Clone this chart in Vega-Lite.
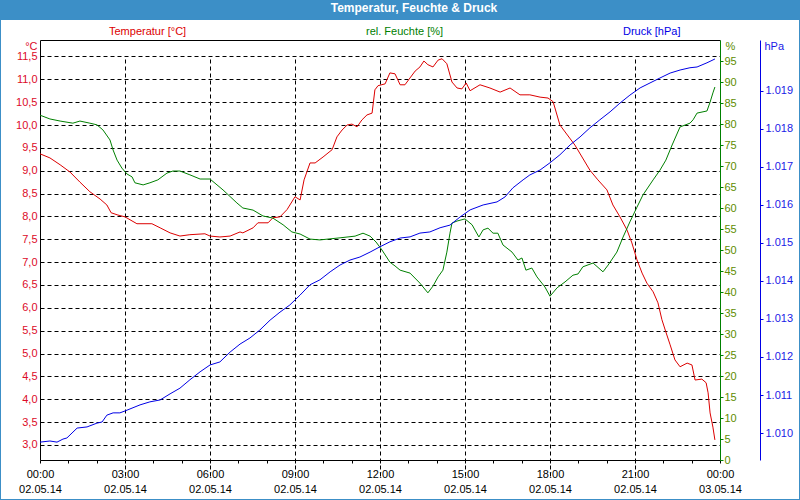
{
  "$schema": "https://vega.github.io/schema/vega-lite/v6.json",
  "width": 798,
  "height": 479,
  "autosize": {"type": "none"},
  "padding": {"left": 1, "top": 20, "right": 1, "bottom": 1},
  "background": "#3c8fc7",
  "view": {"fill": "white", "stroke": null},
  "title": {"text": "Temperatur, Feuchte & Druck", "color": "white", "font": "Liberation Sans", "fontSize": 12, "fontWeight": "bold", "anchor": "middle", "frame": "group", "offset": 5, "dx": 14},
  "config": {
    "font": "Liberation Sans",
    "axis": {"labelFont": "Liberation Sans", "labelFontSize": 11, "titleFont": "Liberation Sans", "titleFontSize": 11, "titleFontWeight": "normal", "labelFlush": false, "labelOverlap": false}
  },
  "datasets": {
    "temperatur": [
      {"zeit":0,"wert":9.37},{"zeit":0.35,"wert":9.28},{"zeit":0.71,"wert":9.13},{"zeit":1.06,"wert":8.97},{"zeit":1.41,"wert":8.75},{"zeit":1.76,"wert":8.54},{"zeit":2.12,"wert":8.38},{"zeit":2.36,"wert":8.25},{"zeit":2.51,"wert":8.08},{"zeit":2.75,"wert":8.03},{"zeit":3.0,"wert":7.99},{"zeit":3.42,"wert":7.84},{"zeit":3.95,"wert":7.84},{"zeit":4.24,"wert":7.75},{"zeit":4.59,"wert":7.64},{"zeit":4.94,"wert":7.57},{"zeit":5.29,"wert":7.6},{"zeit":5.82,"wert":7.62},{"zeit":6.0,"wert":7.57},{"zeit":6.35,"wert":7.55},{"zeit":6.71,"wert":7.57},{"zeit":7.06,"wert":7.66},{"zeit":7.16,"wert":7.64},{"zeit":7.52,"wert":7.75},{"zeit":7.69,"wert":7.86},{"zeit":8.05,"wert":7.86},{"zeit":8.22,"wert":7.97},{"zeit":8.47,"wert":7.99},{"zeit":8.72,"wert":8.15},{"zeit":9.0,"wert":8.43},{"zeit":9.18,"wert":8.36},{"zeit":9.32,"wert":8.8},{"zeit":9.53,"wert":9.17},{"zeit":9.71,"wert":9.17},{"zeit":9.99,"wert":9.3},{"zeit":10.31,"wert":9.46},{"zeit":10.48,"wert":9.74},{"zeit":10.66,"wert":9.89},{"zeit":10.84,"wert":10.0},{"zeit":11.01,"wert":10.02},{"zeit":11.19,"wert":9.96},{"zeit":11.36,"wert":10.11},{"zeit":11.54,"wert":10.22},{"zeit":11.72,"wert":10.26},{"zeit":11.82,"wert":10.77},{"zeit":11.93,"wert":10.86},{"zeit":12.18,"wert":10.9},{"zeit":12.35,"wert":11.14},{"zeit":12.53,"wert":11.12},{"zeit":12.71,"wert":10.88},{"zeit":12.88,"wert":10.88},{"zeit":13.06,"wert":11.03},{"zeit":13.24,"wert":11.18},{"zeit":13.41,"wert":11.27},{"zeit":13.55,"wert":11.4},{"zeit":13.69,"wert":11.32},{"zeit":13.87,"wert":11.27},{"zeit":14.05,"wert":11.42},{"zeit":14.19,"wert":11.45},{"zeit":14.36,"wert":11.34},{"zeit":14.54,"wert":10.94},{"zeit":14.72,"wert":10.81},{"zeit":14.89,"wert":10.79},{"zeit":15.04,"wert":10.92},{"zeit":15.18,"wert":10.75},{"zeit":15.53,"wert":10.88},{"zeit":15.88,"wert":10.81},{"zeit":16.24,"wert":10.72},{"zeit":16.59,"wert":10.81},{"zeit":16.94,"wert":10.66},{"zeit":17.29,"wert":10.66},{"zeit":17.65,"wert":10.61},{"zeit":17.93,"wert":10.59},{"zeit":18.11,"wert":10.51},{"zeit":18.35,"wert":10.0},{"zeit":18.88,"wert":9.56},{"zeit":19.41,"wert":9.01},{"zeit":19.69,"wert":8.8},{"zeit":20.01,"wert":8.58},{"zeit":20.22,"wert":8.25},{"zeit":20.47,"wert":7.99},{"zeit":20.72,"wert":7.7},{"zeit":20.89,"wert":7.42},{"zeit":21.07,"wert":7.05},{"zeit":21.25,"wert":6.76},{"zeit":21.42,"wert":6.54},{"zeit":21.64,"wert":6.35},{"zeit":21.81,"wert":6.11},{"zeit":21.95,"wert":5.74},{"zeit":22.09,"wert":5.47},{"zeit":22.24,"wert":5.19},{"zeit":22.41,"wert":4.86},{"zeit":22.59,"wert":4.71},{"zeit":22.84,"wert":4.79},{"zeit":23.01,"wert":4.75},{"zeit":23.12,"wert":4.42},{"zeit":23.36,"wert":4.44},{"zeit":23.51,"wert":4.36},{"zeit":23.58,"wert":4.14},{"zeit":23.65,"wert":3.7},{"zeit":23.75,"wert":3.39},{"zeit":23.82,"wert":3.11}
    ],
    "feuchte": [
      {"zeit":0,"wert":82.1},{"zeit":0.35,"wert":81.2},{"zeit":0.71,"wert":80.7},{"zeit":1.16,"wert":80.2},{"zeit":1.41,"wert":80.7},{"zeit":1.76,"wert":80.2},{"zeit":2.01,"wert":79.8},{"zeit":2.22,"wert":78.6},{"zeit":2.47,"wert":76.2},{"zeit":2.58,"wert":73.8},{"zeit":2.72,"wert":71.4},{"zeit":2.89,"wert":69.5},{"zeit":3.07,"wert":68.1},{"zeit":3.25,"wert":67.4},{"zeit":3.35,"wert":66.0},{"zeit":3.64,"wert":65.5},{"zeit":3.88,"wert":66.0},{"zeit":4.16,"wert":66.7},{"zeit":4.48,"wert":68.3},{"zeit":4.69,"wert":68.8},{"zeit":4.94,"wert":68.8},{"zeit":5.29,"wert":67.9},{"zeit":5.65,"wert":66.9},{"zeit":6.0,"wert":66.9},{"zeit":6.46,"wert":64.3},{"zeit":6.95,"wert":61.2},{"zeit":7.16,"wert":60.0},{"zeit":7.52,"wert":59.5},{"zeit":7.87,"wert":58.1},{"zeit":8.22,"wert":57.6},{"zeit":8.58,"wert":56.0},{"zeit":8.89,"wert":54.3},{"zeit":9.18,"wert":53.8},{"zeit":9.53,"wert":52.6},{"zeit":9.88,"wert":52.4},{"zeit":10.59,"wert":52.9},{"zeit":11.12,"wert":53.3},{"zeit":11.4,"wert":54.0},{"zeit":11.65,"wert":53.3},{"zeit":11.86,"wert":51.9},{"zeit":12.07,"wert":50.0},{"zeit":12.35,"wert":47.1},{"zeit":12.53,"wert":46.2},{"zeit":12.71,"wert":45.2},{"zeit":13.06,"wert":44.5},{"zeit":13.41,"wert":42.1},{"zeit":13.69,"wert":39.8},{"zeit":13.87,"wert":41.4},{"zeit":14.05,"wert":43.6},{"zeit":14.22,"wert":45.2},{"zeit":14.36,"wert":49.5},{"zeit":14.47,"wert":54.0},{"zeit":14.54,"wert":56.4},{"zeit":14.72,"wert":56.9},{"zeit":15.0,"wert":57.4},{"zeit":15.25,"wert":56.0},{"zeit":15.49,"wert":53.1},{"zeit":15.64,"wert":54.8},{"zeit":15.81,"wert":55.2},{"zeit":15.99,"wert":54.0},{"zeit":16.16,"wert":54.0},{"zeit":16.34,"wert":51.2},{"zeit":16.66,"wert":49.5},{"zeit":16.87,"wert":47.6},{"zeit":17.01,"wert":48.1},{"zeit":17.15,"wert":45.2},{"zeit":17.36,"wert":45.7},{"zeit":17.54,"wert":43.6},{"zeit":17.82,"wert":41.2},{"zeit":18.0,"wert":39.0},{"zeit":18.25,"wert":41.0},{"zeit":18.53,"wert":42.4},{"zeit":18.81,"wert":44.0},{"zeit":18.99,"wert":44.3},{"zeit":19.16,"wert":46.0},{"zeit":19.52,"wert":46.9},{"zeit":19.87,"wert":44.8},{"zeit":20.05,"wert":46.4},{"zeit":20.36,"wert":49.5},{"zeit":20.58,"wert":53.1},{"zeit":20.82,"wert":56.7},{"zeit":21.07,"wert":60.2},{"zeit":21.28,"wert":63.1},{"zeit":21.64,"wert":66.7},{"zeit":21.88,"wert":69.0},{"zeit":22.09,"wert":71.4},{"zeit":22.31,"wert":75.0},{"zeit":22.59,"wert":79.3},{"zeit":22.94,"wert":80.2},{"zeit":23.05,"wert":81.0},{"zeit":23.19,"wert":82.6},{"zeit":23.54,"wert":83.1},{"zeit":23.65,"wert":85.2},{"zeit":23.75,"wert":87.4},{"zeit":23.82,"wert":88.8}
    ],
    "druck": [
      {"zeit":0,"wert":1009.76},{"zeit":0.35,"wert":1009.79},{"zeit":0.6,"wert":1009.76},{"zeit":0.81,"wert":1009.84},{"zeit":0.95,"wert":1009.87},{"zeit":1.13,"wert":1010.0},{"zeit":1.31,"wert":1010.13},{"zeit":1.66,"wert":1010.16},{"zeit":2.01,"wert":1010.26},{"zeit":2.19,"wert":1010.29},{"zeit":2.36,"wert":1010.47},{"zeit":2.58,"wert":1010.53},{"zeit":2.82,"wert":1010.53},{"zeit":3.0,"wert":1010.58},{"zeit":3.53,"wert":1010.74},{"zeit":3.88,"wert":1010.82},{"zeit":4.24,"wert":1010.87},{"zeit":4.59,"wert":1011.03},{"zeit":4.94,"wert":1011.18},{"zeit":5.29,"wert":1011.4},{"zeit":5.65,"wert":1011.61},{"zeit":6.0,"wert":1011.79},{"zeit":6.35,"wert":1011.87},{"zeit":6.71,"wert":1012.13},{"zeit":7.06,"wert":1012.34},{"zeit":7.41,"wert":1012.5},{"zeit":7.76,"wert":1012.71},{"zeit":8.12,"wert":1012.97},{"zeit":8.47,"wert":1013.18},{"zeit":8.82,"wert":1013.37},{"zeit":9.18,"wert":1013.63},{"zeit":9.53,"wert":1013.9},{"zeit":9.88,"wert":1014.03},{"zeit":10.24,"wert":1014.24},{"zeit":10.59,"wert":1014.42},{"zeit":10.94,"wert":1014.55},{"zeit":11.29,"wert":1014.63},{"zeit":11.65,"wert":1014.76},{"zeit":12.0,"wert":1014.9},{"zeit":12.35,"wert":1015.03},{"zeit":12.71,"wert":1015.13},{"zeit":13.06,"wert":1015.16},{"zeit":13.41,"wert":1015.26},{"zeit":13.76,"wert":1015.29},{"zeit":14.12,"wert":1015.4},{"zeit":14.47,"wert":1015.47},{"zeit":14.82,"wert":1015.68},{"zeit":15.18,"wert":1015.87},{"zeit":15.64,"wert":1016.0},{"zeit":16.13,"wert":1016.08},{"zeit":16.41,"wert":1016.21},{"zeit":16.69,"wert":1016.45},{"zeit":17.05,"wert":1016.66},{"zeit":17.29,"wert":1016.79},{"zeit":17.65,"wert":1016.92},{"zeit":18.0,"wert":1017.11},{"zeit":18.35,"wert":1017.32},{"zeit":18.71,"wert":1017.58},{"zeit":19.06,"wert":1017.79},{"zeit":19.41,"wert":1018.03},{"zeit":19.76,"wert":1018.24},{"zeit":20.12,"wert":1018.45},{"zeit":20.47,"wert":1018.68},{"zeit":20.82,"wert":1018.89},{"zeit":21.18,"wert":1019.08},{"zeit":21.53,"wert":1019.21},{"zeit":21.88,"wert":1019.34},{"zeit":22.24,"wert":1019.47},{"zeit":22.59,"wert":1019.55},{"zeit":22.94,"wert":1019.61},{"zeit":23.19,"wert":1019.63},{"zeit":23.54,"wert":1019.74},{"zeit":23.82,"wert":1019.84}
    ]
  },
  "layer": [
    {
      "data": {"name": "temperatur"},
      "mark": {"type": "line", "strokeWidth": 1},
      "encoding": {
        "x": {
          "field": "zeit", "type": "quantitative",
          "scale": {"domain": [0, 24], "range": [39, 719], "nice": false, "zero": false},
          "axis": {
            "orient": "bottom", "offset": -39, "title": null,
            "values": [0,1,2,3,4,5,6,7,8,9,10,11,12,13,14,15,16,17,18,19,20,21,22,23,24],
            "labelExpr": "datum.value % 3 == 0 ? [(datum.value == 24 ? '00' : (datum.value < 10 ? '0' + datum.value : '' + datum.value)) + ':00', datum.value == 24 ? '03.05.14' : '02.05.14'] : ''",
            "labelColor": "black", "labelBaseline": "top", "labelPadding": 5, "labelLineHeight": 15,
            "tickSize": 3, "tickColor": "black", "domainColor": "black", "domainWidth": 1,
            "grid": true, "gridColor": "black", "gridDash": [4, 3], "gridWidth": 1,
            "gridOpacity": {"condition": {"test": "datum.value % 3 == 0 && datum.value > 0 && datum.value < 24", "value": 1}, "value": 0}
          }
        },
        "y": {
          "field": "wert", "type": "quantitative",
          "scale": {"domain": [2.67, 11.86], "range": [440, 20], "nice": false, "zero": false},
          "axis": {
            "orient": "left", "offset": -39,
            "values": [3,3.5,4,4.5,5,5.5,6,6.5,7,7.5,8,8.5,9,9.5,10,10.5,11,11.5],
            "labelExpr": "replace(format(datum.value, '.1f'), '.', ',')",
            "labelColor": "#dc0a28", "labelPadding": 3, "ticks": false,
            "domainColor": "black",
            "grid": true, "gridColor": "black", "gridDash": [4, 3], "gridWidth": 1, "gridOpacity": 1,
            "title": "°C", "titleColor": "#dc0a28", "titleAngle": 0, "titleAlign": "right", "titleBaseline": "middle", "titleX": -3, "titleY": 26
          }
        },
        "color": {
          "datum": "Temperatur [°C]", "type": "nominal",
          "scale": {"domain": ["Temperatur [°C]", "rel. Feuchte [%]", "Druck [hPa]"], "range": ["#dc0000", "#008000", "#0000e6"]},
          "legend": {
            "orient": "none", "legendX": 97, "legendY": 6, "direction": "horizontal", "title": null,
            "symbolSize": 0, "symbolStrokeWidth": 0, "symbolOpacity": 0, "labelOffset": 0,
            "labelFont": "Liberation Sans", "labelFontSize": 11, "columnPadding": 168,
            "encode": {"labels": {"update": {"fill": {"signal": "scale('color', datum.value)"}}}}
          }
        }
      }
    },
    {
      "data": {"name": "feuchte"},
      "mark": {"type": "line", "strokeWidth": 1},
      "encoding": {
        "x": {
          "field": "zeit", "type": "quantitative",
          "axis": {"orient": "top", "offset": -20, "title": null, "labels": false, "ticks": false, "grid": false, "domainColor": "black", "domainWidth": 1}
        },
        "y": {
          "field": "wert", "type": "quantitative",
          "scale": {"domain": [0, 100], "range": [440, 20], "nice": false, "zero": false},
          "axis": {
            "orient": "right", "offset": -79,
            "values": [0,5,10,15,20,25,30,35,40,45,50,55,60,65,70,75,80,85,90,95],
            "labelColor": "#5e8c00", "labelPadding": 1, "tickSize": 3, "tickColor": "#008000",
            "domainColor": "#008000", "grid": false,
            "title": "%", "titleColor": "#5e8c00", "titleAngle": 0, "titleAlign": "left", "titleBaseline": "middle", "titleX": 5, "titleY": 26
          }
        },
        "color": {"datum": "rel. Feuchte [%]", "type": "nominal"}
      }
    },
    {
      "data": {"name": "druck"},
      "mark": {"type": "line", "strokeWidth": 1},
      "encoding": {
        "x": {"field": "zeit", "type": "quantitative", "axis": null},
        "y": {
          "field": "wert", "type": "quantitative",
          "scale": {"domain": [1009.29, 1020.34], "range": [440, 20], "nice": false, "zero": false},
          "axis": {
            "orient": "right", "offset": -39,
            "values": [1010,1011,1012,1013,1014,1015,1016,1017,1018,1019],
            "labelExpr": "replace(format(datum.value, ',d'), ',', '.')",
            "labelColor": "#1a1ae6", "labelPadding": 2, "tickSize": 3, "tickColor": "#0000e6",
            "domainColor": "#0000e6", "grid": false,
            "title": "hPa", "titleColor": "#1a1ae6", "titleAngle": 0, "titleAlign": "left", "titleBaseline": "middle", "titleX": 4, "titleY": 26
          }
        },
        "color": {"datum": "Druck [hPa]", "type": "nominal"}
      }
    }
  ],
  "resolve": {"scale": {"y": "independent"}, "axis": {"x": "independent", "y": "independent"}}
}
